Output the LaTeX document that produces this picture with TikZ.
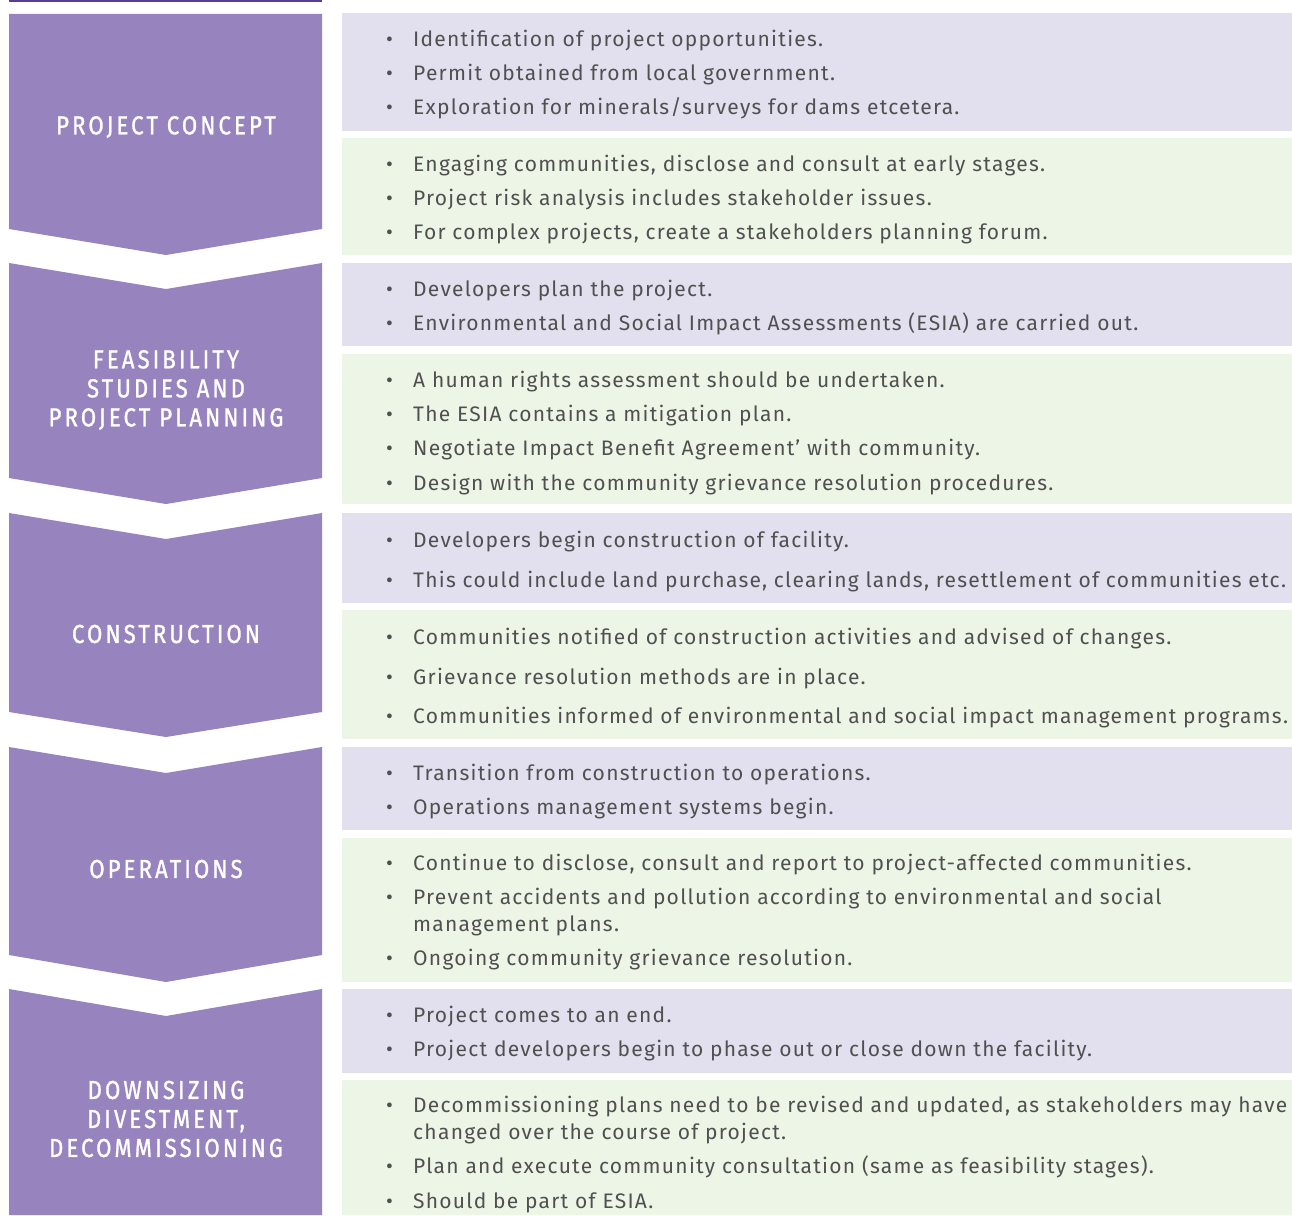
\documentclass[tikz,border=0pt]{standalone}
\usepackage{fontspec}
\setmainfont[LetterSpace=6]{Fira Sans}
\newfontfamily\lblfont[LetterSpace=12,FakeStretch=0.85,FakeBold=1.2]{Fira Sans}
\usetikzlibrary{positioning}
\definecolor{phasecol}{HTML}{9783BE}
\definecolor{lavcol}{HTML}{E2DFEF}
\definecolor{grncol}{HTML}{EDF5E7}
\definecolor{topcol}{HTML}{5B3A9E}
\definecolor{txtcol}{HTML}{505050}

\tikzset{
  phase/.style={fill=phasecol},
  lavbox/.style={fill=lavcol},
  grnbox/.style={fill=grncol},
  lbl/.style={font=\lblfont\fontsize{26}{29}\selectfont, text=white, align=center, inner sep=0pt},
  item/.style={anchor=mid west, inner sep=0pt, text=txtcol, font=\fontsize{21}{24}\selectfont},
}
\newcommand{\bul}{\makebox[27pt][l]{\textbullet}}

\begin{document}
\begin{tikzpicture}[x=1pt, y=-1pt]
    \useasboundingbox (0,0) rectangle (1292,1215);
    % top rule
    \fill[topcol] (9,0) rectangle (322,1.8);
    % phase chevrons
    \fill[phase] (9,14) -- (322,14) -- (322,229) -- (166,255) -- (9,229) -- cycle;
    \fill[phase] (9,263) -- (166,289) -- (322,263) -- (322,478) -- (166,504) -- (9,478) -- cycle;
    \fill[phase] (9,513) -- (166,539) -- (322,513) -- (322,712) -- (166,737) -- (9,712) -- cycle;
    \fill[phase] (9,747) -- (166,773) -- (322,747) -- (322,955) -- (166,982) -- (9,955) -- cycle;
    \fill[phase] (9,989) -- (166,1016) -- (322,989) -- (322,1215) -- (9,1215) -- cycle;
    \node[lbl] (concept) at (166,127) {PROJECT CONCEPT};
    \node[lbl] (feasib) at (166,390) {FEASIBILITY\\STUDIES AND\\PROJECT PLANNING};
    \node[lbl] (constr) at (166,634) {CONSTRUCTION};
    \node[lbl] (operat) at (166,869) {OPERATIONS};
    \node[lbl] (downsz) at (166,1119) {DOWNSIZING\\DIVESTMENT,\\DECOMMISSIONING};
    % boxes
    \fill[lavbox] (342,13) rectangle (1292,131);
    \fill[grnbox] (342,138) rectangle (1292,255);
    \fill[lavbox] (342,263) rectangle (1292,346);
    \fill[grnbox] (342,354) rectangle (1292,504);
    \fill[lavbox] (342,513) rectangle (1292,603);
    \fill[grnbox] (342,610) rectangle (1292,739);
    \fill[lavbox] (342,747) rectangle (1292,830);
    \fill[grnbox] (342,838) rectangle (1292,982);
    \fill[lavbox] (342,989) rectangle (1292,1073);
    \fill[grnbox] (342,1080) rectangle (1292,1215);
    % project concept
    \node[item] (a1) at (386,44) {\bul Identification of project opportunities.};
    \node[item] (a2) at (386,78) {\bul Permit obtained from local government.};
    \node[item] (a3) at (386,112) {\bul Exploration for minerals/surveys for dams etcetera.};
    \node[item] (a4) at (386,169) {\bul Engaging communities, disclose and consult at early stages.};
    \node[item] (a5) at (386,203) {\bul Project risk analysis includes stakeholder issues.};
    \node[item] (a6) at (386,237) {\bul For complex projects, create a stakeholders planning forum.};
    % feasibility
    \node[item] (b1) at (386,294) {\bul Developers plan the project.};
    \node[item] (b2) at (386,328) {\bul Environmental and Social Impact Assessments (ESIA) are carried out.};
    \node[item] (b3) at (386,385) {\bul A human rights assessment should be undertaken.};
    \node[item] (b4) at (386,419) {\bul The ESIA contains a mitigation plan.};
    \node[item] (b5) at (386,453) {\bul Negotiate Impact Benefit Agreement’ with community.};
    \node[item] (b6) at (386,488) {\bul Design with the community grievance resolution procedures.};
    % construction
    \node[item] (c1) at (386,545) {\bul Developers begin construction of facility.};
    \node[item] (c2) at (386,585) {\bul This could include land purchase, clearing lands, resettlement of communities etc.};
    \node[item] (c3) at (386,642) {\bul Communities notified of construction activities and advised of changes.};
    \node[item] (c4) at (386,682) {\bul Grievance resolution methods are in place.};
    \node[item] (c5) at (386,721) {\bul Communities informed of environmental and social impact management programs.};
    % operations
    \node[item] (d1) at (386,778) {\bul Transition from construction to operations.};
    \node[item] (d2) at (386,812) {\bul Operations management systems begin.};
    \node[item] (d3) at (386,868) {\bul Continue to disclose, consult and report to project-affected communities.};
    \node[item] (d4) at (386,902) {\bul Prevent accidents and pollution according to environmental and social};
    \node[item] (d4b) at (413,929) {management plans.};
    \node[item] (d5) at (386,963) {\bul Ongoing community grievance resolution.};
    % downsizing
    \node[item] (e1) at (386,1020) {\bul Project comes to an end.};
    \node[item] (e2) at (386,1054) {\bul Project developers begin to phase out or close down the facility.};
    \node[item] (e3) at (386,1110) {\bul Decommissioning plans need to be revised and updated, as stakeholders may have};
    \node[item] (e3b) at (413,1137) {changed over the course of project.};
    \node[item] (e4) at (386,1171) {\bul Plan and execute community consultation (same as feasibility stages).};
    \node[item] (e5) at (386,1206) {\bul Should be part of ESIA.};
\end{tikzpicture}
\end{document}
